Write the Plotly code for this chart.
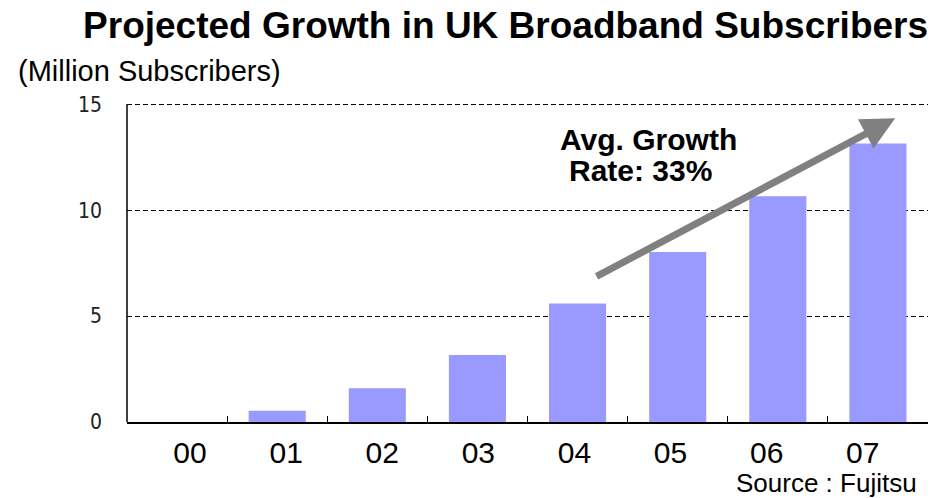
import plotly.graph_objects as go

# Subscriber projections by year (millions)
years = ["00", "01", "02", "03", "04", "05", "06", "07"]
subscribers = [0.0, 0.53, 1.59, 3.16, 5.6, 8.03, 10.66, 13.15]
y_ticks = [0, 5, 10, 15]

BAR_COLOR = "#9999FF"
TEXT_FONT = "Liberation Sans, Arial, sans-serif"
NARROW_FONT = "Liberation Sans Narrow, DejaVu Sans Condensed, Arial Narrow, sans-serif"

fig = go.Figure()

fig.add_trace(go.Bar(
    x=years,
    y=subscribers,
    marker=dict(color=BAR_COLOR, line=dict(width=0)),
    hoverinfo="x+y",
    showlegend=False,
))

# Year labels sit on a second bottom axis with its own spacing
fig.add_trace(go.Scatter(
    x=list(range(len(years))),
    y=[None] * len(years),
    xaxis="x2",
    yaxis="y",
    mode="markers",
    showlegend=False,
    hoverinfo="skip",
))

fig.update_layout(
    width=945,
    height=498,
    margin=dict(l=127, r=17, t=98, b=76),
    paper_bgcolor="white",
    plot_bgcolor="white",
    bargap=0.43,
    title=dict(
        text="<b>Projected Growth in UK Broadband Subscribers</b>",
        font=dict(family=TEXT_FONT, size=37, color="black"),
        x=0.535, xref="container", xanchor="center",
        y=0.95, yref="container", yanchor="middle",
    ),
    xaxis=dict(
        type="category",
        categoryorder="array",
        categoryarray=years,
        range=[-0.5, len(years) - 0.5],
        showline=True, linecolor="black", linewidth=1.5,
        ticks="inside", tickson="boundaries", ticklen=6, tickwidth=1.2,
        tickcolor="black",
        showticklabels=False,
        showgrid=False, zeroline=False,
        fixedrange=True,
    ),
    xaxis2=dict(
        overlaying="x",
        anchor="y",
        side="bottom",
        range=[-0.656, 7.679],
        tickmode="array",
        tickvals=list(range(len(years))),
        ticktext=years,
        tickfont=dict(family=TEXT_FONT, size=30, color="black"),
        ticks="",
        ticklabelstandoff=10,
        showline=False, showgrid=False, zeroline=False,
        fixedrange=True,
    ),
    yaxis=dict(
        range=[0, 15.3],
        tickmode="array",
        tickvals=y_ticks,
        ticktext=[str(v) for v in y_ticks],
        tickfont=dict(family=NARROW_FONT, size=21, color="#222222"),
        ticks="",
        ticklabelstandoff=24,
        showline=False,
        showgrid=True, gridcolor="black", gridwidth=1,
        griddash="5px,3px",
        zeroline=False,
        fixedrange=True,
    ),
    # Vertical value axis line, running from 0 up to the top tick
    shapes=[
        dict(
            type="line", xref="paper", yref="y",
            x0=0, x1=0, y0=y_ticks[0], y1=y_ticks[-1],
            line=dict(color="black", width=1.5),
            layer="above",
        ),
    ],
    annotations=[
        dict(
            text="(Million Subscribers)",
            xref="paper", yref="paper",
            x=-0.1386, y=1.083, xanchor="left", yanchor="middle",
            showarrow=False,
            font=dict(family=TEXT_FONT, size=29, color="black"),
        ),
        dict(
            text="<b>Avg. Growth</b>",
            xref="paper", yref="paper",
            x=0.651, y=0.873, xanchor="center", yanchor="middle",
            showarrow=False,
            font=dict(family=TEXT_FONT, size=30, color="black"),
        ),
        dict(
            text="<b>Rate: 33%</b>",
            xref="paper", yref="paper",
            x=0.641, y=0.775, xanchor="center", yanchor="middle",
            showarrow=False,
            font=dict(family=TEXT_FONT, size=30, color="black"),
        ),
        dict(
            text="Source : Fujitsu",
            xref="paper", yref="paper",
            x=0.873, y=-0.188, xanchor="center", yanchor="middle",
            showarrow=False,
            font=dict(family=TEXT_FONT, size=26, color="black"),
        ),
        # Growth trend arrow
        dict(
            text="",
            xref="x", yref="y", axref="x", ayref="y",
            x=7.172, y=14.34,
            ax=4.175, ay=6.84,
            showarrow=True,
            arrowhead=2, arrowsize=0.95, arrowwidth=7,
            arrowcolor="#808080",
        ),
    ],
)

fig.write_html("out.html")
